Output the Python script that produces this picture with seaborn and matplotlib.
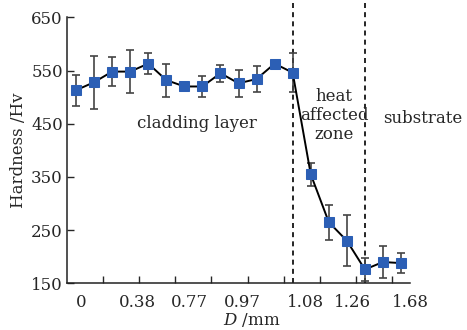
import numpy as np
import pandas as pd
import matplotlib
matplotlib.use('Agg')
import matplotlib.pyplot as plt
import seaborn as sns

# measurement points along the cross section (index), hardness and std
point = list(range(19))
hardness = [513, 528, 548, 548, 563, 532, 520, 520, 545, 526, 534, 563, 546,
            355, 265, 230, 176, 190, 188]
hard_err = [29, 50, 28, 40, 20, 31, 5, 19, 16, 25, 25, 5, 36,
            22, 33, 48, 22, 30, 19]

# x tick labels (distance in mm) and where they sit on the point axis
tick_pos = [0.28, 3.4, 6.3, 9.2, 12.7, 15.3, 18.5]
tick_lab = ['0', '0.38', '0.77', '0.97', '1.08', '1.26', '1.68']
minor_pos = [1.5, 3.5, 5.5, 7.5, 9.5, 11.5, 13.5, 15.5, 17.5]
zone_bounds = [12, 16]

df = pd.DataFrame({'point': point, 'hardness': hardness, 'err': hard_err})

sns.set_style('ticks')
plt.rcParams['font.family'] = ['DejaVu Serif']
plt.rcParams['mathtext.fontset'] = 'dejavuserif'

fig = plt.figure(figsize=(4.67, 3.30), dpi=100)
ax = fig.add_axes([0.1435, 0.1415, 0.7345, 0.806])

ax.errorbar(df['point'], df['hardness'], yerr=df['err'], fmt='none',
            ecolor='#444444', elinewidth=1.2, capsize=3, capthick=1.2, zorder=2)
sns.lineplot(data=df, x='point', y='hardness', ax=ax, color='black', lw=1.4,
             marker='s', markersize=6.5, markerfacecolor='#2c5fb5',
             markeredgecolor='#2c5fb5', zorder=3)

for xb in zone_bounds:
    ax.axvline(xb, ymin=0, ymax=1.055, color='black', ls=(0, (3, 2.5)), lw=1.2,
               clip_on=False, zorder=1)

ax.set_xlim(-0.5, 18.5)
ax.set_ylim(150, 650)
ax.set_yticks([150, 250, 350, 450, 550, 650])
ax.set_xticks(tick_pos)
ax.set_xticklabels(tick_lab)
ax.set_xticks(minor_pos, minor=True)
ax.tick_params(axis='x', which='major', length=0, pad=8, labelsize=12)
ax.tick_params(axis='x', which='minor', direction='in', length=5, width=1)
ax.tick_params(axis='y', direction='in', length=5, width=1, labelsize=12, pad=3)
ax.spines['top'].set_visible(False)
ax.spines['right'].set_visible(False)
for s in ['left', 'bottom']:
    ax.spines[s].set_linewidth(1.1)
    ax.spines[s].set_color('#222222')

ax.set_xlabel(r'$D$ /mm', fontsize=12, labelpad=2)
ax.xaxis.set_label_coords(0.54, -0.105)
ax.set_ylabel('Hardness /Hv', fontsize=12, labelpad=3)

ax.text(6.7, 451, 'cladding layer', fontsize=12, ha='center', va='center')
ax.text(14.3, 466, 'heat\naffected\nzone', fontsize=12, ha='center', va='center',
        linespacing=1.15)
ax.text(19.2, 459, 'substrate', fontsize=12, ha='center', va='center')

fig.savefig('out.png', dpi=100)
